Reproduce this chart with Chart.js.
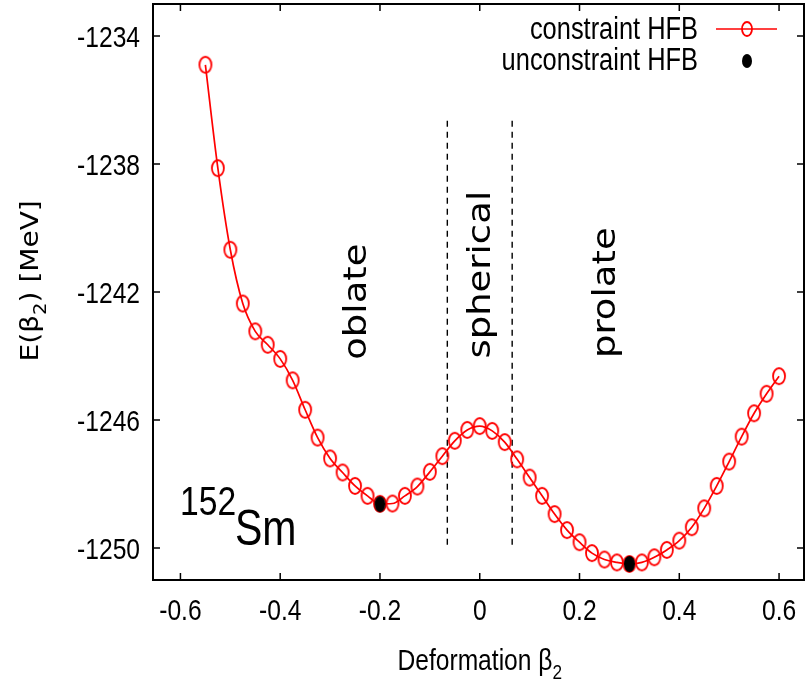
<!DOCTYPE html>
<html>
<head>
<meta charset="utf-8">
<script src="https://cdn.jsdelivr.net/npm/chart.js@4.4.1/dist/chart.umd.min.js"></script>
<style>
  html, body { margin: 0; padding: 0; background: #fff; }
  #wrap { width: 807px; height: 688px; position: relative; }
  canvas { display: block; }
</style>
</head>
<body>
<div id="wrap"><canvas id="chart" width="807" height="688"></canvas></div>
<script>
// deformation grid of the constrained HFB run
const beta = [-0.55, -0.525, -0.5, -0.475, -0.45, -0.425, -0.4, -0.375, -0.35, -0.325,
              -0.3, -0.275, -0.25, -0.225, -0.2, -0.175, -0.15, -0.125, -0.1, -0.075,
              -0.05, -0.025, 0, 0.025, 0.05, 0.075, 0.1, 0.125, 0.15, 0.175,
              0.2, 0.225, 0.25, 0.275, 0.3, 0.325, 0.35, 0.375, 0.4, 0.425,
              0.45, 0.475, 0.5, 0.525, 0.55, 0.575, 0.6];
const energy = [-1234.90, -1238.13, -1240.68, -1242.36, -1243.23, -1243.65, -1244.09, -1244.76, -1245.68, -1246.55,
                -1247.20, -1247.64, -1248.06, -1248.37, -1248.62, -1248.61, -1248.37, -1248.08, -1247.62, -1247.13,
                -1246.65, -1246.31, -1246.19, -1246.34, -1246.69, -1247.23, -1247.80, -1248.37, -1248.94, -1249.44,
                -1249.82, -1250.16, -1250.36, -1250.45, -1250.50, -1250.45, -1250.29, -1250.06, -1249.77, -1249.35,
                -1248.76, -1248.06, -1247.30, -1246.52, -1245.79, -1245.18, -1244.63];

// unconstrained minima
const minBeta = [-0.2, 0.3];
const minEnergy = [-1248.63, -1250.50];

// dashed separators of the spherical region
const dividerBeta = [-0.065, 0.065];
const dividerEnergy = [-1236.65, -1249.9];

const xTicks = [-0.6, -0.4, -0.2, 0, 0.2, 0.4, 0.6];
const yTicks = [-1250, -1246, -1242, -1238, -1234];
const seriesLabels = ["constraint HFB", "unconstraint HFB"];
const regionLabels = ["oblate", "spherical", "prolate"];

const SANS = "'Liberation Sans', Arial, sans-serif";
const WIDE = "'DejaVu Sans', sans-serif";
const SQUEEZE = 0.82;

function ellipseMarker(w, h, lw, stroke, fill) {
  const c = document.createElement("canvas");
  c.width = w + 4; c.height = h + 4;
  const g = c.getContext("2d");
  g.beginPath();
  g.ellipse(c.width / 2, c.height / 2, w / 2, h / 2, 0, 0, Math.PI * 2);
  if (fill) { g.fillStyle = fill; g.fill(); }
  if (stroke) { g.lineWidth = lw; g.strokeStyle = stroke; g.stroke(); }
  return c;
}
const openMark = ellipseMarker(12, 16, 1.8, "#ff0000", null);
const dotMark = ellipseMarker(11, 16, 0, null, "#000000");
const legendOpen = ellipseMarker(10, 14, 1.8, "#ff0000", null);
const legendDot = ellipseMarker(10, 14, 0, null, "#000000");

// horizontally squeezed text, like the narrow font of the original
function squeezed(ctx, text, x, y, size, align, baseline) {
  ctx.save();
  ctx.translate(x, y);
  ctx.scale(SQUEEZE, 1);
  ctx.font = size + "px " + SANS;
  ctx.textAlign = align;
  ctx.textBaseline = baseline;
  ctx.fillText(text, 0, 0);
  ctx.restore();
}

// text with a subscript part: parts = [[text, isSub], ...], drawn in local coords
function drawRich(ctx, parts, size, family) {
  let total = 0;
  const widths = parts.map(function(p) {
    ctx.font = (p[1] ? size * 0.7 : size) + "px " + family;
    const w = ctx.measureText(p[0]).width;
    total += w;
    return w;
  });
  let cx = -total / 2;
  ctx.textAlign = "left";
  ctx.textBaseline = "alphabetic";
  parts.forEach(function(p, i) {
    ctx.font = (p[1] ? size * 0.7 : size) + "px " + family;
    ctx.fillText(p[0], cx, p[1] ? size * 0.3 : 0);
    cx += widths[i];
  });
}

const decorations = {
  id: "decorations",
  afterDraw(chart) {
    const ctx = chart.ctx;
    const a = chart.chartArea;
    const xs = chart.scales.x, ys = chart.scales.y;
    ctx.save();
    ctx.fillStyle = "#000";
    ctx.strokeStyle = "#000";

    // frame and inward ticks on all sides
    ctx.lineWidth = 2;
    ctx.strokeRect(a.left, a.top, a.right - a.left, a.bottom - a.top);
    ctx.lineWidth = 1.5;
    ctx.beginPath();
    xTicks.forEach(function(v) {
      const px = xs.getPixelForValue(v);
      ctx.moveTo(px, a.bottom); ctx.lineTo(px, a.bottom - 7);
      ctx.moveTo(px, a.top); ctx.lineTo(px, a.top + 7);
    });
    yTicks.forEach(function(v) {
      const py = ys.getPixelForValue(v);
      ctx.moveTo(a.left, py); ctx.lineTo(a.left + 7, py);
      ctx.moveTo(a.right, py); ctx.lineTo(a.right - 7, py);
    });
    ctx.stroke();

    // tick labels
    xTicks.forEach(function(v) {
      squeezed(ctx, String(Number(v.toFixed(1))), xs.getPixelForValue(v), a.bottom + 40, 30, "center", "alphabetic");
    });
    yTicks.forEach(function(v) {
      squeezed(ctx, String(v), a.left - 13, ys.getPixelForValue(v) + 11, 30, "right", "alphabetic");
    });

    // axis titles
    ctx.save();
    ctx.translate(xs.getPixelForValue(0), 670);
    ctx.scale(SQUEEZE, 1);
    drawRich(ctx, [["Deformation \u03b2", false], ["2", true]], 30, SANS);
    ctx.restore();
    ctx.save();
    ctx.translate(38, ys.getPixelForValue(-1241.65));
    ctx.rotate(-Math.PI / 2);
    ctx.scale(1, 0.9);
    drawRich(ctx, [["E(\u03b2", false], ["2", true], [") [MeV]", false]], 28, WIDE);
    ctx.restore();

    // region names, rotated
    ctx.font = "37px " + WIDE;
    ctx.textAlign = "center";
    ctx.textBaseline = "middle";
    const regionPos = [[-0.245, -1242.3], [0.003, -1241.46], [0.255, -1242.02]];
    regionLabels.forEach(function(t, i) {
      ctx.save();
      ctx.translate(xs.getPixelForValue(regionPos[i][0]), ys.getPixelForValue(regionPos[i][1]));
      ctx.rotate(-Math.PI / 2);
      ctx.scale(1, 0.88);
      ctx.fillText(t, 0, 0);
      ctx.restore();
    });

    // nucleus label
    squeezed(ctx, "152", 180, 515, 41, "left", "alphabetic");
    squeezed(ctx, "Sm", 235, 545, 50, "left", "alphabetic");

    // legend
    squeezed(ctx, seriesLabels[0], 698, 39, 31, "right", "alphabetic");
    squeezed(ctx, seriesLabels[1], 698, 70, 31, "right", "alphabetic");
    ctx.strokeStyle = "#ff0000";
    ctx.lineWidth = 1.6;
    ctx.beginPath();
    ctx.moveTo(716, 29); ctx.lineTo(777, 29);
    ctx.stroke();
    ctx.drawImage(legendOpen, 747 - legendOpen.width / 2, 29 - legendOpen.height / 2);
    ctx.drawImage(legendDot, 747 - legendDot.width / 2, 61 - legendDot.height / 2);
    ctx.restore();
  }
};

new Chart(document.getElementById("chart"), {
  type: "line",
  data: {
    datasets: [
      {
        label: seriesLabels[1],
        data: minBeta.map(function(b, i) { return { x: b, y: minEnergy[i] }; }),
        showLine: false,
        pointStyle: dotMark,
        pointRadius: 6,
        order: 0
      },
      {
        label: seriesLabels[0],
        data: beta.map(function(b, i) { return { x: b, y: energy[i] }; }),
        borderColor: "#ff0000",
        borderWidth: 1.7,
        cubicInterpolationMode: "monotone",
        pointStyle: openMark,
        pointRadius: 6,
        fill: false,
        order: 1
      },
      {
        label: "left divider",
        data: [{ x: dividerBeta[0], y: dividerEnergy[0] }, { x: dividerBeta[0], y: dividerEnergy[1] }],
        borderColor: "#000",
        borderWidth: 1.4,
        borderDash: [6, 5],
        pointRadius: 0,
        order: 2
      },
      {
        label: "right divider",
        data: [{ x: dividerBeta[1], y: dividerEnergy[0] }, { x: dividerBeta[1], y: dividerEnergy[1] }],
        borderColor: "#000",
        borderWidth: 1.4,
        borderDash: [6, 5],
        pointRadius: 0,
        order: 2
      }
    ]
  },
  options: {
    responsive: false,
    animation: false,
    devicePixelRatio: 1,
    layout: { autoPadding: false, padding: { top: 4, right: 3, left: 0, bottom: 0 } },
    plugins: {
      legend: { display: false },
      tooltip: { enabled: false }
    },
    scales: {
      x: {
        type: "linear",
        min: -0.655,
        max: 0.65,
        afterBuildTicks: function(s) { s.ticks = xTicks.map(function(v) { return { value: v }; }); },
        afterFit: function(s) { s.height = 108; },
        grid: { display: false, drawTicks: false },
        border: { display: false },
        ticks: { display: false }
      },
      y: {
        type: "linear",
        min: -1251,
        max: -1233,
        afterBuildTicks: function(s) { s.ticks = yTicks.map(function(v) { return { value: v }; }); },
        afterFit: function(s) { s.width = 153; },
        grid: { display: false, drawTicks: false },
        border: { display: false },
        ticks: { display: false }
      }
    }
  },
  plugins: [decorations]
});
</script>
</body>
</html>
